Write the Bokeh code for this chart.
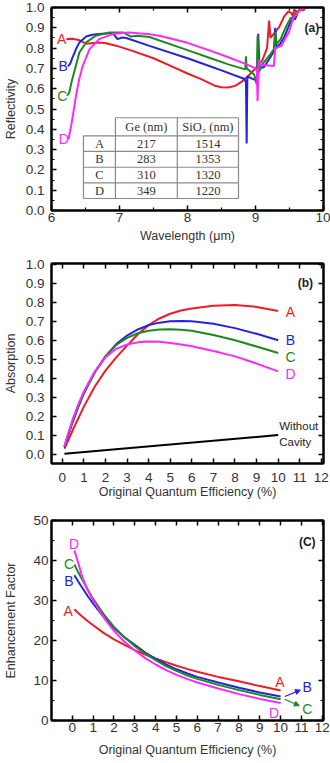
from bokeh.plotting import figure
from bokeh.layouts import column
from bokeh.models import (Range1d, LinearAxis, FixedTicker, CustomJSTickFormatter,
                          NumeralTickFormatter, Arrow, NormalHead, ColumnDataSource)
from bokeh.core.properties import value
from bokeh.embed import file_html
from bokeh.resources import INLINE

# ---------------- (a) reflectivity spectra ----------------
wl_A = [6.22, 6.30, 6.40, 6.47, 6.52, 6.58, 6.70, 6.80, 6.95, 7.20, 7.50, 7.80, 8.00, 8.20,
        8.40, 8.50, 8.60, 8.70, 8.80, 8.90, 9.00, 9.10, 9.17, 9.20, 9.22, 9.28, 9.35, 9.42,
        9.48, 9.52, 9.55, 9.57, 9.62, 9.66, 9.70, 9.74]
R_A = [0.845, 0.846, 0.840, 0.828, 0.822, 0.824, 0.828, 0.824, 0.812, 0.785, 0.750, 0.705,
       0.675, 0.647, 0.615, 0.607, 0.606, 0.614, 0.635, 0.665, 0.700, 0.740, 0.800, 0.935,
       0.850, 0.875, 0.905, 0.955, 0.980, 0.975, 0.960, 0.990, 0.975, 0.995, 0.985, 1.000]

wl_B = [6.24, 6.27, 6.31, 6.36, 6.41, 6.51, 6.60, 6.70, 6.80, 6.90, 6.94, 6.97, 7.04, 7.10,
        7.44, 8.00, 8.31, 8.50, 8.84, 8.86, 8.87, 8.88, 8.95, 9.02, 9.04, 9.06, 9.12, 9.20,
        9.27, 9.29, 9.31, 9.36, 9.42, 9.49, 9.55, 9.58, 9.62, 9.66, 9.72]
R_B = [0.710, 0.720, 0.754, 0.795, 0.828, 0.857, 0.866, 0.869, 0.872, 0.874, 0.858, 0.844,
       0.852, 0.850, 0.811, 0.750, 0.713, 0.690, 0.648, 0.630, 0.330, 0.660, 0.650, 0.640,
       0.870, 0.700, 0.705, 0.745, 0.785, 0.900, 0.800, 0.820, 0.852, 0.910, 0.955, 0.940,
       0.975, 0.990, 1.000]

wl_C = [6.23, 6.26, 6.30, 6.34, 6.41, 6.51, 6.65, 6.85, 7.05, 7.12, 7.17, 7.26, 7.44, 8.00,
        8.31, 8.60, 8.85, 8.86, 8.87, 8.98, 9.02, 9.03, 9.05, 9.10, 9.22, 9.28, 9.29, 9.31,
        9.37, 9.44, 9.52, 9.55, 9.58, 9.62, 9.70]
R_C = [0.565, 0.580, 0.640, 0.690, 0.778, 0.828, 0.861, 0.877, 0.877, 0.865, 0.857, 0.861,
       0.855, 0.790, 0.754, 0.720, 0.695, 0.760, 0.700, 0.670, 0.620, 0.860, 0.680, 0.720,
       0.770, 0.800, 0.877, 0.820, 0.844, 0.900, 0.950, 0.935, 0.970, 0.980, 1.000]

wl_D = [6.25, 6.29, 6.33, 6.36, 6.41, 6.46, 6.56, 6.70, 6.90, 7.14, 7.44, 7.60, 8.00, 8.31,
        8.60, 8.85, 9.00, 9.02, 9.03, 9.05, 9.08, 9.15, 9.27, 9.29, 9.33, 9.38, 9.44, 9.49,
        9.53, 9.56, 9.60, 9.63, 9.68, 9.72]
R_D = [0.350, 0.420, 0.500, 0.565, 0.650, 0.713, 0.795, 0.844, 0.869, 0.877, 0.868, 0.860,
       0.826, 0.790, 0.755, 0.722, 0.700, 0.690, 0.540, 0.740, 0.720, 0.715, 0.712, 0.800,
       0.805, 0.810, 0.850, 0.877, 0.920, 0.950, 0.965, 0.980, 0.990, 1.000]

cavities = ["A", "B", "C", "D"]
ge_nm = [217, 283, 310, 349]
sio2_nm = [1514, 1353, 1320, 1220]

# ---------------- (b) absorption / (c) enhancement ----------------
qe = [0.1, 0.25, 0.5, 0.75, 1, 1.5, 2, 2.5, 3, 3.5, 4, 4.5, 5, 5.5, 6, 7, 8, 9, 10]
abs_A = [0.028, 0.065, 0.130, 0.190, 0.250, 0.355, 0.440, 0.510, 0.572, 0.632, 0.680, 0.715,
         0.740, 0.757, 0.768, 0.782, 0.786, 0.776, 0.755]
abs_B = [0.0365, 0.090, 0.175, 0.250, 0.320, 0.430, 0.515, 0.580, 0.625, 0.657, 0.680, 0.693,
         0.700, 0.702, 0.700, 0.687, 0.664, 0.634, 0.600]
abs_C = [0.039, 0.095, 0.180, 0.255, 0.320, 0.430, 0.515, 0.575, 0.613, 0.637, 0.650, 0.657,
         0.658, 0.655, 0.650, 0.628, 0.600, 0.567, 0.533]
abs_D = [0.0425, 0.100, 0.190, 0.265, 0.330, 0.435, 0.510, 0.555, 0.578, 0.589, 0.593, 0.592,
         0.586, 0.578, 0.568, 0.543, 0.515, 0.477, 0.436]
qe_bare = [0.1, 10]
abs_bare = [0.001, 0.100]

ef_A = [27.8, 27.0, 25.9, 24.8, 23.8, 21.9, 20.3, 18.9, 17.6, 16.5, 15.5, 14.6, 13.7, 12.9,
        12.2, 10.9, 9.8, 8.6, 7.5]
ef_B = [36.3, 35.0, 33.0, 31.0, 29.2, 25.9, 23.1, 20.8, 18.9, 17.0, 15.4, 14.0, 12.8, 11.8,
        10.9, 9.5, 8.2, 7.0, 6.0]
ef_C = [39.0, 37.4, 35.0, 32.6, 30.4, 26.6, 23.4, 20.8, 18.6, 16.7, 15.1, 13.6, 12.4, 11.3,
        10.4, 8.9, 7.6, 6.4, 5.3]
ef_D = [42.5, 40.0, 35.5, 32.5, 30.0, 25.8, 22.4, 19.7, 17.5, 15.6, 14.0, 12.6, 11.4, 10.4,
        9.5, 8.0, 6.6, 5.4, 4.4]

COLORS = ["#ee1c25", "#2323e0", "#1d8a1d", "#ff28ff"]
FONT = "Liberation Sans"
SERIF = "Liberation Serif"
TXT = "#333333"
LW = 2


def ticker(major, minor):
    return FixedTicker(ticks=major, minor_ticks=minor)


def make_fig(height, top, bottom, xr, yr, xmaj, xmin, ymaj, ymin, xfmt, yfmt,
             xlabel, ylabel, x_std, x_lab_std, y_std, y_lab_std):
    p = figure(width=330, height=height, x_range=Range1d(*xr), y_range=Range1d(*yr),
               output_backend="svg", toolbar_location=None,
               min_border_left=50, min_border_right=7,
               min_border_top=top, min_border_bottom=bottom)
    p.xgrid.visible = False
    p.ygrid.visible = False
    p.outline_line_color = "black"
    p.outline_line_width = 2
    p.outline_line_alpha = 1
    p.background_fill_color = "white"
    p.border_fill_color = "white"

    bottom_ax = p.below[0]
    left_ax = p.left[0]
    bottom_ax.axis_label = xlabel
    left_ax.axis_label = ylabel
    bottom_ax.ticker = ticker(xmaj, xmin)
    left_ax.ticker = ticker(ymaj, ymin)
    bottom_ax.formatter = NumeralTickFormatter(format=xfmt)
    left_ax.formatter = NumeralTickFormatter(format=yfmt)

    blank = CustomJSTickFormatter(code="return ''")
    top_ax = LinearAxis(ticker=ticker(xmaj, xmin), formatter=blank)
    right_ax = LinearAxis(ticker=ticker(ymaj, ymin), formatter=blank)
    p.add_layout(top_ax, "above")
    p.add_layout(right_ax, "right")

    for ax in [bottom_ax, left_ax, top_ax, right_ax]:
        ax.axis_line_color = "black"
        ax.axis_line_width = 2
        ax.major_tick_in = 5
        ax.major_tick_out = 0
        ax.minor_tick_in = 3
        ax.minor_tick_out = 0
        ax.major_tick_line_color = "black"
        ax.minor_tick_line_color = "black"
        ax.major_tick_line_width = 1.5
        ax.minor_tick_line_width = 1.2
        ax.major_label_text_font = FONT
        ax.major_label_text_font_size = "13.5px"
        ax.major_label_text_color = TXT
        ax.axis_label_text_font = FONT
        ax.axis_label_text_font_size = "12.5px"
        ax.axis_label_text_font_style = "normal"
        ax.axis_label_text_color = TXT
    for ax in [top_ax, right_ax]:
        ax.major_label_text_font_size = "1px"
        ax.major_label_standoff = 0

    bottom_ax.major_label_standoff = x_std
    bottom_ax.axis_label_standoff = x_lab_std
    left_ax.major_label_standoff = y_std
    left_ax.axis_label_standoff = y_lab_std
    return p


def labels(p, xs, ys, texts, colors, size="14px", align="center", font=FONT, style="normal"):
    src = ColumnDataSource(dict(x=xs, y=ys, t=texts, c=colors))
    p.text(x="x", y="y", text="t", text_color="c", source=src,
           text_font=value(font), text_font_size=size, text_font_style=style,
           text_align=align, text_baseline="middle")


# ---------------- panel (a) ----------------
pa = make_fig(250, 7, 40, (6, 10), (0, 1),
              [6, 7, 8, 9, 10], [6.5, 7.5, 8.5, 9.5],
              [round(0.1 * i, 1) for i in range(11)],
              [round(0.05 + 0.1 * i, 2) for i in range(10)],
              "0", "0.0", "Wavelength (\u03bcm)", "Reflectivity", 2, 4, 7, 5)

spectra = [(wl_A, R_A), (wl_B, R_B), (wl_C, R_C), (wl_D, R_D)]
for (wl, R), col in zip(spectra, COLORS):
    pa.line(wl, R, line_color=col, line_width=LW)

labels(pa, [wl[0] - 0.07 for wl, _ in spectra], [R[0] for _, R in spectra],
       cavities, COLORS)
labels(pa, [9.83], [0.90], ["(a)"], ["#222222"], size="12px", style="bold")

# layer-thickness table
col_edges = [6.47, 6.94, 7.85, 8.75]
row_edges = [0.457, 0.368, 0.291, 0.213, 0.136, 0.059]
x0s, y0s, x1s, y1s = [], [], [], []
# horizontal rules (the top rule skips the empty corner cell)
for i, yy in enumerate(row_edges):
    x0s.append(col_edges[1] if i == 0 else col_edges[0])
    x1s.append(col_edges[-1])
    y0s.append(yy)
    y1s.append(yy)
# vertical rules
for j, xx in enumerate(col_edges):
    x0s.append(xx)
    x1s.append(xx)
    y0s.append(row_edges[1] if j == 0 else row_edges[0])
    y1s.append(row_edges[-1])
pa.segment(x0s, y0s, x1s, y1s, line_color="#8a8a8a", line_width=1.2)

cx = [(col_edges[k] + col_edges[k + 1]) / 2 for k in range(3)]
cy = [(row_edges[k] + row_edges[k + 1]) / 2 for k in range(5)]
tx, ty, tt = [cx[1], cx[2]], [cy[0], cy[0]], ["Ge (nm)", "SiO\u2082 (nm)"]
for r, (name, g, s) in enumerate(zip(cavities, ge_nm, sio2_nm)):
    tx += [cx[0], cx[1], cx[2]]
    ty += [cy[r + 1]] * 3
    tt += [name, str(g), str(s)]
labels(pa, tx, ty, tt, [TXT] * len(tt), size="12.5px", font=SERIF)

# ---------------- panel (b) ----------------
pb = make_fig(255, 13, 42, (-0.5, 12.1), (-0.05, 1.005),
              list(range(13)), [],
              [round(0.1 * i, 1) for i in range(11)], [],
              "0", "0.0", "Original Quantum Efficiency (%)", "Absorption", 9, 0, 7, 5)

absorb = [abs_A, abs_B, abs_C, abs_D]
for a, col in zip(absorb, COLORS):
    pb.line(qe, a, line_color=col, line_width=LW)
pb.line(qe_bare, abs_bare, line_color="black", line_width=LW)

labels(pb, [10.57] * 4, [0.750, 0.603, 0.511, 0.420], cavities, COLORS)
labels(pb, [10.05, 10.05], [0.146, 0.061], ["Without", "Cavity"], ["#222222"] * 2,
       size="11.5px", align="left")
labels(pb, [11.26], [0.90], ["(b)"], ["#222222"], size="12px", style="bold")

# ---------------- panel (c) ----------------
pc = make_fig(258, 15, 43, (-1.0, 12.06), (0, 50),
              list(range(13)), [],
              [0, 10, 20, 30, 40, 50], [5, 15, 25, 35, 45],
              "0", "0", "Original Quantum Efficiency (%)", "Enhancement Factor", 2, 8, 3, 12)

enh = [ef_A, ef_B, ef_C, ef_D]
for e, col in zip(enh, COLORS):
    pc.line(qe, e, line_color=col, line_width=LW)

labels(pc, [-0.20, -0.16, -0.16, 0.08], [27.5, 34.8, 39.2, 44.2], cavities, COLORS)
labels(pc, [9.97, 11.28, 11.28, 9.68], [9.6, 8.3, 2.9, 1.9], cavities, COLORS)
for e, col, tip in [(ef_B, COLORS[1], (10.95, 7.6)), (ef_C, COLORS[2], (10.9, 3.7))]:
    pc.add_layout(Arrow(x_start=qe[-1] + 0.2, y_start=e[-1], x_end=tip[0], y_end=tip[1],
                        line_color=col, line_width=1.2,
                        end=NormalHead(size=5, fill_color=col, line_color=col)))
labels(pc, [11.28], [44.6], ["(C)"], ["#222222"], size="12px", style="bold")

layout = column(pa, pb, pc, spacing=0)
open("out.html", "w").write(file_html(layout, INLINE))
